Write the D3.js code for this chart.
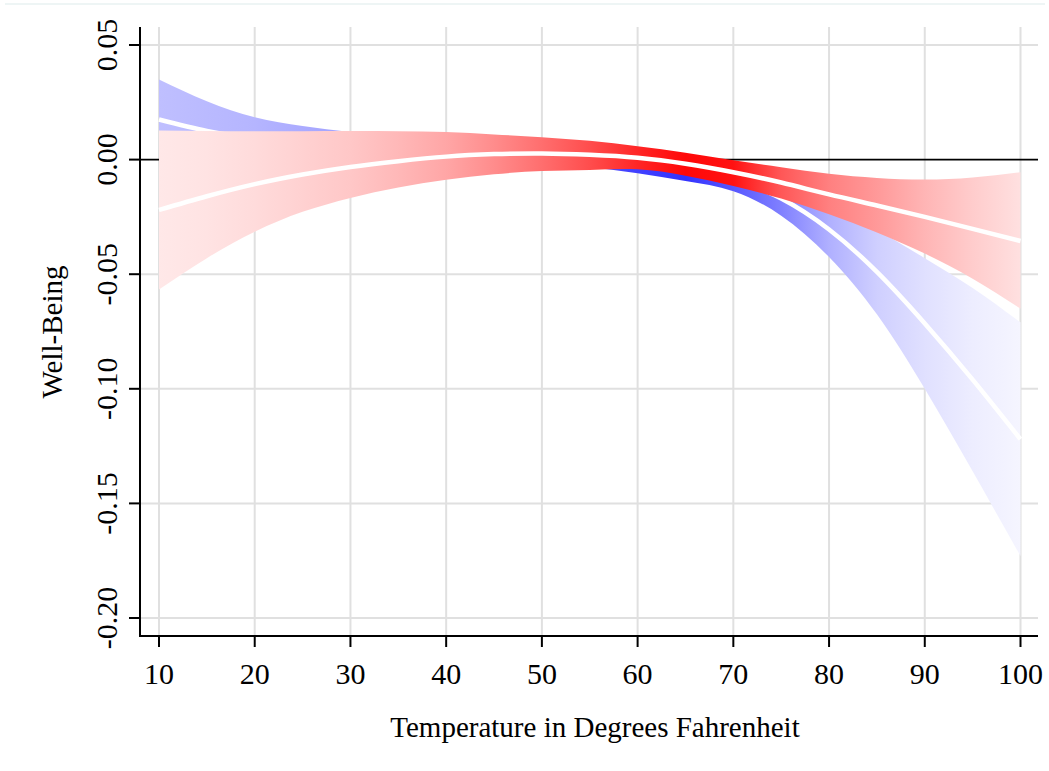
<!DOCTYPE html>
<html>
<head>
<meta charset="utf-8">
<script src="https://cdn.jsdelivr.net/npm/d3@7"></script>
<style>
  body { margin: 0; background: #fff; }
  svg text { font-family: 'Liberation Serif', 'Times New Roman', serif; fill: #000; }
</style>
</head>
<body>
<svg id="chart" width="1049" height="771"></svg>
<script>
const temps = [10, 15, 20, 25, 30, 35, 40, 45, 50, 55, 60, 65, 70, 75, 80, 85, 90, 95, 100];

// blue series: estimate and confidence band
const blueMean  = [0.0175, 0.0125, 0.0090, 0.0072, 0.0060, 0.0051, 0.0043, 0.0033, 0.0020, 0.0002, -0.0022, -0.0050, -0.0088, -0.0170, -0.0305, -0.0490, -0.0715, -0.0960, -0.1220];
const blueLower = [0.0000, -0.0005, -0.0005, -0.0003, 0.0000, 0.0002, 0.0001, -0.0004, -0.0015, -0.0033, -0.0060, -0.0093, -0.0138, -0.0245, -0.0425, -0.0675, -0.1000, -0.1360, -0.1730];
const blueUpper = [0.0350, 0.0255, 0.0185, 0.0147, 0.0120, 0.0100, 0.0085, 0.0070, 0.0055, 0.0037, 0.0016, -0.0007, -0.0038, -0.0095, -0.0185, -0.0305, -0.0430, -0.0560, -0.0710];
// colour intensity of the blue band along x (0 = white, 1 = full blue)
const blueShade = [0.25, 0.27, 0.29, 0.33, 0.37, 0.42, 0.48, 0.55, 0.62, 0.70, 0.75, 0.80, 0.66, 0.50, 0.31, 0.19, 0.12, 0.07, 0.04];

// red series: estimate and confidence band
const redMean  = [-0.0220, -0.0160, -0.0107, -0.0065, -0.0032, -0.0007, 0.0013, 0.0024, 0.0027, 0.0021, 0.0008, -0.0018, -0.0055, -0.0100, -0.0152, -0.0200, -0.0250, -0.0302, -0.0355];
const redLower = [-0.0567, -0.0430, -0.0315, -0.0228, -0.0167, -0.0122, -0.0088, -0.0064, -0.0050, -0.0045, -0.0042, -0.0070, -0.0115, -0.0170, -0.0238, -0.0318, -0.0410, -0.0520, -0.0650];
const redUpper = [0.0127, 0.0125, 0.0124, 0.0124, 0.0125, 0.0124, 0.0120, 0.0110, 0.0098, 0.0082, 0.0058, 0.0030, -0.0003, -0.0033, -0.0062, -0.0080, -0.0087, -0.0078, -0.0055];
const redShade = [0.09, 0.11, 0.14, 0.18, 0.22, 0.28, 0.35, 0.45, 0.57, 0.70, 0.85, 0.97, 0.93, 0.66, 0.50, 0.40, 0.29, 0.20, 0.12];

// axis ticks
const xTicks = [10, 20, 30, 40, 50, 60, 70, 80, 90, 100];
const yTicks = [-0.20, -0.15, -0.10, -0.05, 0.00, 0.05];

const svg = d3.select('#chart');

const x = d3.scaleLinear().domain([10, 100]).range([159, 1020.5]);
const y = d3.scaleLinear().domain([-0.20, 0.05]).range([618, 45]);

const plotLeft = 140, plotRight = 1038, plotTop = 27, plotBottom = 636;

// plain hyphen for negative labels, like the original
const fmt = d3.formatLocale({ decimal: '.', thousands: ',', grouping: [3], currency: ['', ''], minus: '-' }).format('.2f');

// faint frame line at the very top
svg.append('line')
  .attr('x1', 5).attr('x2', 1045).attr('y1', 4).attr('y2', 4)
  .attr('stroke', '#e9f2f2').attr('stroke-width', 1.5);

// ========== GRID ==========
const grid = svg.append('g');
xTicks.forEach(t => {
  grid.append('line')
    .attr('x1', x(t)).attr('x2', x(t)).attr('y1', plotTop).attr('y2', plotBottom)
    .attr('stroke', '#e0e0e0').attr('stroke-width', 2);
});
yTicks.forEach(t => {
  if (t === 0) return;
  grid.append('line')
    .attr('x1', plotLeft).attr('x2', plotRight).attr('y1', y(t)).attr('y2', y(t))
    .attr('stroke', '#e0e0e0').attr('stroke-width', 2);
});

// zero reference line (sits under the bands)
svg.append('line')
  .attr('x1', plotLeft).attr('x2', plotRight).attr('y1', y(0)).attr('y2', y(0))
  .attr('stroke', '#000').attr('stroke-width', 1.6);

// ========== BANDS ==========
const defs = svg.append('defs');

function makeGradient(id, shades, color) {
  const mix = d3.interpolateRgb('#ffffff', color);
  const grad = defs.append('linearGradient')
    .attr('id', id)
    .attr('gradientUnits', 'userSpaceOnUse')
    .attr('x1', x(temps[0])).attr('x2', x(temps[temps.length - 1]))
    .attr('y1', 0).attr('y2', 0);
  temps.forEach((t, i) => {
    grad.append('stop')
      .attr('offset', (t - temps[0]) / (temps[temps.length - 1] - temps[0]))
      .attr('stop-color', mix(shades[i]));
  });
}

makeGradient('blue-grad', blueShade, '#0000ff');
makeGradient('red-grad', redShade, '#ff0000');

function drawSeries(mean, lower, upper, gradId) {
  const rows = temps.map((t, i) => ({ t, m: mean[i], lo: lower[i], hi: upper[i] }));

  const area = d3.area()
    .x(d => x(d.t))
    .y0(d => y(d.lo))
    .y1(d => y(d.hi))
    .curve(d3.curveNatural);

  const line = d3.line()
    .x(d => x(d.t))
    .y(d => y(d.m))
    .curve(d3.curveNatural);

  svg.append('path')
    .datum(rows)
    .attr('d', area)
    .attr('fill', `url(#${gradId})`);

  svg.append('path')
    .datum(rows)
    .attr('d', line)
    .attr('fill', 'none')
    .attr('stroke', '#fff')
    .attr('stroke-width', 4.5);
}

// blue first, red drawn over it
drawSeries(blueMean, blueLower, blueUpper, 'blue-grad');
drawSeries(redMean, redLower, redUpper, 'red-grad');

// ========== AXES ==========
const axes = svg.append('g').attr('stroke', '#000').attr('stroke-width', 2);
axes.append('line').attr('x1', plotLeft).attr('x2', plotLeft).attr('y1', plotTop).attr('y2', plotBottom + 1);
axes.append('line').attr('x1', plotLeft - 1).attr('x2', plotRight).attr('y1', plotBottom).attr('y2', plotBottom);

xTicks.forEach(t => {
  axes.append('line').attr('x1', x(t)).attr('x2', x(t)).attr('y1', plotBottom).attr('y2', plotBottom + 11);
  svg.append('text')
    .attr('x', x(t)).attr('y', 684)
    .attr('text-anchor', 'middle')
    .attr('font-size', 30)
    .text(t);
});

yTicks.forEach(t => {
  axes.append('line').attr('x1', plotLeft - 11).attr('x2', plotLeft).attr('y1', y(t)).attr('y2', y(t));
  svg.append('text')
    .attr('transform', `translate(117,${y(t)}) rotate(-90)`)
    .attr('text-anchor', 'middle')
    .attr('font-size', 30)
    .text(fmt(t));
});

// axis titles
svg.append('text')
  .attr('x', 595).attr('y', 737)
  .attr('text-anchor', 'middle')
  .attr('font-size', 29)
  .text('Temperature in Degrees Fahrenheit');

svg.append('text')
  .attr('transform', 'translate(62,332) rotate(-90)')
  .attr('text-anchor', 'middle')
  .attr('font-size', 29)
  .text('Well-Being');
</script>
</body>
</html>
